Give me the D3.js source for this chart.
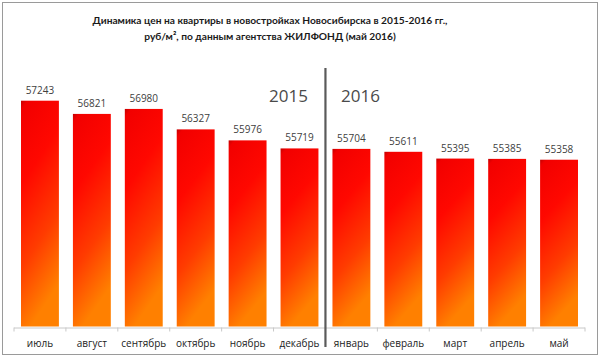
<!DOCTYPE html>
<html>
<head>
<meta charset="utf-8">
<script src="https://cdn.jsdelivr.net/npm/d3@7"></script>
<style>
  html, body { margin: 0; padding: 0; background: #fff; }
  svg { display: block; }
</style>
</head>
<body>
<svg id="chart" width="600" height="358"></svg>
<script>
const categories = ["июль", "август", "сентябрь", "октябрь", "ноябрь", "декабрь", "январь", "февраль", "март", "апрель", "май"];
const values = [57243, 56821, 56980, 56327, 55976, 55719, 55704, 55611, 55395, 55385, 55358];
const yearLabels = ["2015", "2016"];
const titleLines = ["Динамика цен на квартиры в новостройках Новосибирска в 2015-2016 гг.,", "руб/м², по данным агентства ЖИЛФОНД (май 2016)"];
const yDomain = [50000, 58000];

const svg = d3.select("#chart");
const W = 600, H = 358;
const m = { left: 14, right: 15, top: 77, bottom: 30 };
const plotBottom = 327.5;

// outer frame
svg.append("rect").attr("x", 2.5).attr("y", 2.5).attr("width", 595).attr("height", 352)
  .attr("fill", "#fff").attr("stroke", "#9a9a9a").attr("stroke-width", 1);

const defs = svg.append("defs");
const grad = defs.append("linearGradient").attr("id", "barGrad")
  .attr("x1", "0").attr("y1", "0").attr("x2", "0.25").attr("y2", "1");
grad.append("stop").attr("offset", "0%").attr("stop-color", "#c40000");
grad.append("stop").attr("offset", "4%").attr("stop-color", "#f20000");
grad.append("stop").attr("offset", "35%").attr("stop-color", "#ff0800");
grad.append("stop").attr("offset", "70%").attr("stop-color", "#ff3c00");
grad.append("stop").attr("offset", "100%").attr("stop-color", "#ff8000");

const x = d3.scaleBand().domain(categories).range([m.left, W - m.right]).paddingInner(0.27).paddingOuter(0.135);
const y = d3.scaleLinear().domain(yDomain).range([plotBottom, m.top]);

// title
const title = svg.append("text").attr("x", 270).attr("text-anchor", "middle")
  .attr("font-family", "Lato, 'Open Sans', sans-serif").attr("font-weight", "bold")
  .attr("font-size", 10.2).attr("fill", "#1a1a1a");
titleLines.forEach((t, i) => {
  title.append("tspan").attr("x", 270).attr("y", 24 + i * 16).text(t);
});

// bars
svg.append("g").selectAll("rect").data(values).join("rect")
  .attr("x", (d, i) => x(categories[i]))
  .attr("y", d => y(d))
  .attr("width", x.bandwidth())
  .attr("height", d => y(yDomain[0]) - y(d) - 1)
  .attr("fill", "url(#barGrad)");

// value labels
svg.append("g").selectAll("text").data(values).join("text")
  .attr("x", (d, i) => x(categories[i]) + x.bandwidth() / 2)
  .attr("y", d => y(d) - 7)
  .attr("text-anchor", "middle")
  .attr("font-family", "'Open Sans', sans-serif").attr("font-size", 10)
  .attr("fill", "#404040")
  .text(d => d);

// x axis
const axis = d3.axisBottom(x).tickSize(0).tickPadding(12);
const gx = svg.append("g").attr("transform", `translate(0,${plotBottom})`).call(axis);
gx.select(".domain").attr("stroke", "#c8c8c8").attr("d", `M${m.left},0.5H${W - m.right}`);
gx.selectAll("text").attr("font-family", "'Open Sans', sans-serif").attr("font-size", 10).attr("fill", "#222");
// boundary ticks
const step = x.step();
const bounds = d3.range(categories.length + 1).map(i => m.left + i * step);
gx.selectAll("line.bt").data(bounds).join("line").attr("class", "bt")
  .attr("x1", d => d).attr("x2", d => d).attr("y1", 0).attr("y2", 4)
  .attr("stroke", "#c8c8c8");

// divider between years
const divX = (x(categories[5]) + x.bandwidth() + x(categories[6])) / 2;
svg.append("line").attr("x1", divX).attr("x2", divX).attr("y1", 68).attr("y2", 347)
  .attr("stroke", "#5a5a5a").attr("stroke-width", 2.2);

// year labels
svg.append("text").attr("x", divX - 37).attr("y", 102).attr("text-anchor", "middle")
  .attr("font-family", "'Open Sans', sans-serif").attr("font-size", 17).attr("fill", "#4a4a4a")
  .text(yearLabels[0]);
svg.append("text").attr("x", divX + 35).attr("y", 102).attr("text-anchor", "middle")
  .attr("font-family", "'Open Sans', sans-serif").attr("font-size", 17).attr("fill", "#4a4a4a")
  .text(yearLabels[1]);
</script>
</body>
</html>
